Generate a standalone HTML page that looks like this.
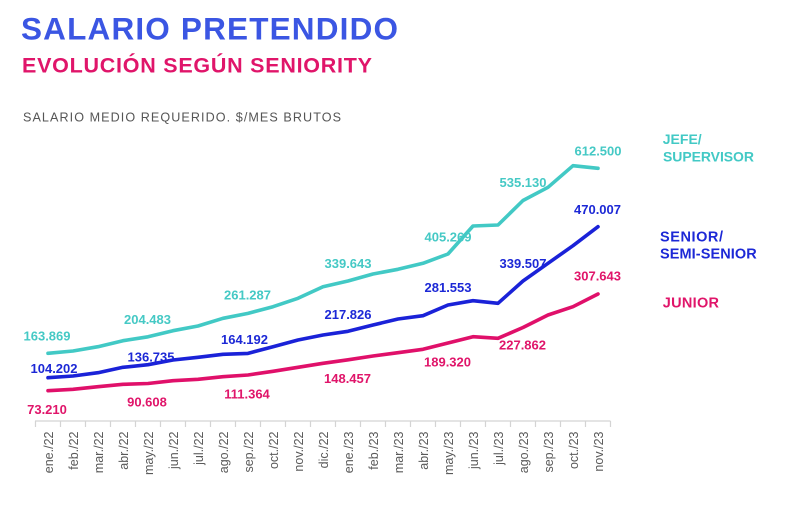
<!DOCTYPE html>
<html><head><meta charset="utf-8"><style>
html,body{margin:0;padding:0;background:#fff;}
svg{display:block;}
text{font-family:"Liberation Sans",Arial,sans-serif;}
</style></head><body>
<svg width="787" height="507" viewBox="0 0 787 507" xmlns="http://www.w3.org/2000/svg">
<rect width="787" height="507" fill="#fff"/>
<text x="21" y="39.5" font-size="31.5" font-weight="bold" fill="#3b56e3" textLength="377" lengthAdjust="spacing">SALARIO PRETENDIDO</text>
<text x="22" y="72.7" font-size="21.5" font-weight="bold" fill="#e0156a" textLength="350" lengthAdjust="spacing">EVOLUCIÓN SEGÚN SENIORITY</text>
<text x="23" y="121.7" font-size="12.6" fill="#555" textLength="318" lengthAdjust="spacing">SALARIO MEDIO REQUERIDO. $/MES BRUTOS</text>

<!-- legend -->
<g font-weight="bold">
<text x="662.7" y="144" font-size="14" fill="#42c9c5" textLength="39" lengthAdjust="spacing">JEFE/</text>
<text x="663" y="161.3" font-size="14" fill="#42c9c5" textLength="91" lengthAdjust="spacing">SUPERVISOR</text>
<text x="660" y="241.5" font-size="14.5" fill="#1c28d6" textLength="63" lengthAdjust="spacing">SENIOR/</text>
<text x="660" y="258.5" font-size="14.5" fill="#1c28d6" textLength="96.7" lengthAdjust="spacing">SEMI-SENIOR</text>
<text x="662.7" y="307.5" font-size="14.5" fill="#e0156a" textLength="56.3" lengthAdjust="spacing">JUNIOR</text>
</g>

<!-- axis -->
<g stroke="#d4d4d4" stroke-width="1.2">
<line x1="35" y1="421" x2="610.5" y2="421"/>
<path d="M35.5 421v6M60.5 421v6M85.5 421v6M110.5 421v6M135.5 421v6M160.5 421v6M185.5 421v6M210.5 421v6M235.5 421v6M260.5 421v6M285.5 421v6M310.5 421v6M335.5 421v6M360.5 421v6M385.5 421v6M410.5 421v6M435.5 421v6M460.5 421v6M485.5 421v6M510.5 421v6M535.5 421v6M560.5 421v6M585.5 421v6M610.5 421v6"/>
</g>
<g font-size="12.5" fill="#5a5a5a" text-anchor="end">
<text transform="translate(53,431.5) rotate(-90)">ene./22</text>
<text transform="translate(78,431.5) rotate(-90)">feb./22</text>
<text transform="translate(103,431.5) rotate(-90)">mar./22</text>
<text transform="translate(128,431.5) rotate(-90)">abr./22</text>
<text transform="translate(153,431.5) rotate(-90)">may./22</text>
<text transform="translate(178,431.5) rotate(-90)">jun./22</text>
<text transform="translate(203,431.5) rotate(-90)">jul./22</text>
<text transform="translate(228,431.5) rotate(-90)">ago./22</text>
<text transform="translate(253,431.5) rotate(-90)">sep./22</text>
<text transform="translate(278,431.5) rotate(-90)">oct./22</text>
<text transform="translate(303,431.5) rotate(-90)">nov./22</text>
<text transform="translate(328,431.5) rotate(-90)">dic./22</text>
<text transform="translate(353,431.5) rotate(-90)">ene./23</text>
<text transform="translate(378,431.5) rotate(-90)">feb./23</text>
<text transform="translate(403,431.5) rotate(-90)">mar./23</text>
<text transform="translate(428,431.5) rotate(-90)">abr./23</text>
<text transform="translate(453,431.5) rotate(-90)">may./23</text>
<text transform="translate(478,431.5) rotate(-90)">jun./23</text>
<text transform="translate(503,431.5) rotate(-90)">jul./23</text>
<text transform="translate(528,431.5) rotate(-90)">ago./23</text>
<text transform="translate(553,431.5) rotate(-90)">sep./23</text>
<text transform="translate(578,431.5) rotate(-90)">oct./23</text>
<text transform="translate(603,431.5) rotate(-90)">nov./23</text>
</g>

<!-- data labels -->
<g font-size="13" font-weight="bold" text-anchor="middle">
<g fill="#45c9c5">
<text x="47" y="340.7">163.869</text>
<text x="147.5" y="324">204.483</text>
<text x="247.5" y="299.7">261.287</text>
<text x="348" y="268">339.643</text>
<text x="448" y="241.4">405.269</text>
<text x="523" y="187">535.130</text>
<text x="598" y="155.4">612.500</text>
</g>
<g fill="#1c28d6">
<text x="54" y="373">104.202</text>
<text x="151" y="361.4">136.735</text>
<text x="244.5" y="344">164.192</text>
<text x="348" y="319">217.826</text>
<text x="448" y="292">281.553</text>
<text x="523" y="268">339.507</text>
<text x="597.5" y="214">470.007</text>
</g>
<g fill="#e0156a">
<text x="47" y="414">73.210</text>
<text x="147" y="406.4">90.608</text>
<text x="247" y="398.7">111.364</text>
<text x="347.5" y="383">148.457</text>
<text x="447.5" y="366.4">189.320</text>
<text x="522.5" y="349.7">227.862</text>
<text x="597.5" y="280.7">307.643</text>
</g>
</g>

<!-- lines -->
<g fill="none" stroke-width="3.6" stroke-linejoin="round" stroke-linecap="round">
<polyline stroke="#42c9c5" points="48,353.3 73,351 98,346.7 123,340.7 148,336.8 173,330.7 198,326 223,318.3 248,313.4 273,306.7 298,298.3 323,286.7 348,281 373,274 398,269.3 423,263.3 448,254 473,226 498,225 523,200.5 548,187.3 573,165.7 598,168.3"/>
<polyline stroke="#1a22d8" points="48,377.7 73,376 98,372.7 123,367.3 148,364.7 173,360 198,357.3 223,354.3 248,353.4 273,346.7 298,340 323,335 348,331.3 373,325 398,319 423,315.7 448,305 473,300.7 498,303.3 523,281 548,263.3 573,245.7 598,226.7"/>
<polyline stroke="#e0106a" points="48,390.7 73,389.3 98,386.7 123,384.3 148,383.5 173,380.7 198,379.3 223,376.7 248,375 273,371.3 298,367.3 323,363.3 348,359.8 373,356 398,352.7 423,349.3 448,343 473,336.7 498,338.3 523,327.5 548,315 573,306.7 598,294"/>
</g>
</svg>
</body></html>
